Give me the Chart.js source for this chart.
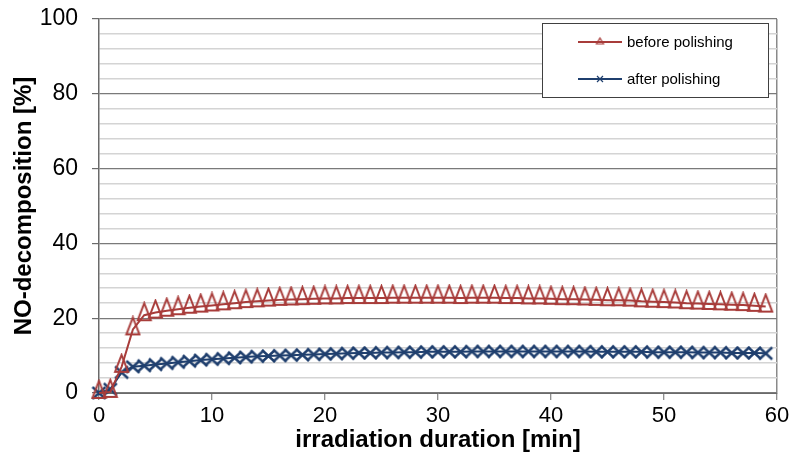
<!DOCTYPE html>
<html>
<head>
<meta charset="utf-8">
<script src="https://cdn.jsdelivr.net/npm/chart.js@4.4.0/dist/chart.umd.min.js"></script>
<style>
  html, body { margin: 0; padding: 0; background: #fff; }
  #wrap { width: 790px; height: 460px; }
</style>
</head>
<body>
<div id="wrap"><canvas id="chart"></canvas></div>
<script>
// irradiation duration [min]
const minutes = [0, 1, 2, 3, 4, 5, 6, 7, 8, 9, 10, 11, 12, 13, 14, 15, 16, 17, 18, 19,
  20, 21, 22, 23, 24, 25, 26, 27, 28, 29, 30, 31, 32, 33, 34, 35, 36, 37, 38, 39,
  40, 41, 42, 43, 44, 45, 46, 47, 48, 49, 50, 51, 52, 53, 54, 55, 56, 57, 58, 59];

// NO-decomposition [%]
const beforePolishing = [0, 0.3, 7, 17, 20.8, 21.5, 22, 22.4, 22.8, 23.1,
  23.4, 23.7, 24.0, 24.3, 24.5, 24.7, 24.9, 25.0, 25.1, 25.2,
  25.3, 25.3, 25.4, 25.4, 25.4, 25.4, 25.5, 25.5, 25.5, 25.5,
  25.5, 25.5, 25.4, 25.5, 25.5, 25.5, 25.4, 25.4, 25.3, 25.3,
  25.2, 25.1, 25.1, 25.0, 24.9, 24.8, 24.8, 24.7, 24.5, 24.4,
  24.3, 24.2, 24.0, 23.9, 23.8, 23.7, 23.6, 23.5, 23.3, 23.1];

const afterPolishing = [0, 1, 5.5, 7, 7.3, 7.6, 7.9, 8.2, 8.5, 8.8,
  9.0, 9.2, 9.4, 9.6, 9.8, 9.9, 10.0, 10.1, 10.2, 10.3,
  10.4, 10.5, 10.6, 10.7, 10.7, 10.8, 10.8, 10.9, 10.9, 11.0,
  11.0, 11.0, 11.0, 11.1, 11.1, 11.1, 11.1, 11.1, 11.1, 11.1,
  11.1, 11.1, 11.1, 11.1, 11.0, 11.0, 11.0, 11.0, 11.0, 10.9,
  10.9, 10.9, 10.9, 10.8, 10.8, 10.8, 10.7, 10.7, 10.7, 10.6];

const seriesLabels = ['before polishing', 'after polishing'];
const xTicks = [0, 10, 20, 30, 40, 50, 60];
const yTicks = [0, 20, 40, 60, 80, 100];

const RED = '#a83c3a';
const BLUE = '#1f3f6e';
const FONT = "'Liberation Sans', Arial, sans-serif";

// tall thin open triangle, the line passes through its lower third
function triangleMarker(w, h, below, color, lw) {
  const above = h - below;
  const c = document.createElement('canvas');
  c.width = w + 4;
  c.height = 2 * above + 4;
  const cx = c.width / 2, cy = c.height / 2;
  const g = c.getContext('2d');
  g.strokeStyle = color;
  g.lineWidth = lw;
  g.lineJoin = 'miter';
  g.beginPath();
  g.moveTo(cx, cy - above);
  g.lineTo(cx + w / 2, cy + below);
  g.lineTo(cx - w / 2, cy + below);
  g.closePath();
  g.stroke();
  return c;
}

function crossMarker(w, h, color, lw) {
  const c = document.createElement('canvas');
  c.width = w + 4;
  c.height = h + 4;
  const g = c.getContext('2d');
  g.strokeStyle = color;
  g.lineWidth = lw;
  g.beginPath();
  g.moveTo(2, 2); g.lineTo(w + 2, h + 2);
  g.moveTo(w + 2, 2); g.lineTo(2, h + 2);
  g.stroke();
  return c;
}

const triBig = triangleMarker(13, 17, 5, RED, 2);
const crossBig = crossMarker(13, 12, BLUE, 2.4);
const triSmall = triangleMarker(7, 6, 2, RED, 1.2);
const crossSmall = crossMarker(6, 6, BLUE, 1.2);

// legend box inside the plot, top right
const insideLegend = {
  id: 'insideLegend',
  afterDraw(chart) {
    const { ctx, chartArea } = chart;
    const right = chartArea.right - 9;
    const top = chartArea.top + 3.5;
    const w = 226, h = 74;
    const left = right - w;
    ctx.save();
    ctx.fillStyle = '#fff';
    ctx.fillRect(left, top, w, h);
    ctx.strokeStyle = '#404040';
    ctx.lineWidth = 1;
    ctx.strokeRect(Math.round(left) + 0.5, Math.round(top) + 0.5, w, h);
    const markers = [triSmall, crossSmall];
    const colors = [RED, BLUE];
    const rows = [top + 19.5, top + 56.5];
    ctx.font = '15px ' + FONT;
    ctx.textBaseline = 'middle';
    ctx.textAlign = 'left';
    chart.data.datasets.forEach((ds, i) => {
      const y = rows[i];
      ctx.strokeStyle = colors[i];
      ctx.lineWidth = 2;
      ctx.beginPath();
      ctx.moveTo(left + 36, y);
      ctx.lineTo(left + 80, y);
      ctx.stroke();
      const m = markers[i];
      ctx.drawImage(m, left + 58 - m.width / 2, y - m.height / 2);
      ctx.fillStyle = '#000';
      ctx.fillText(ds.label, left + 85, y + 1);
    });
    ctx.restore();
  }
};

const ctx = document.getElementById('chart').getContext('2d');
new Chart(ctx, {
  type: 'line',
  data: {
    labels: minutes,
    datasets: [{
      label: seriesLabels[0],
      data: minutes.map((m, i) => ({ x: m, y: beforePolishing[i] })),
      borderColor: RED,
      borderWidth: 2,
      pointStyle: triBig,
      pointRadius: 6,
      tension: 0,
      clip: false
    }, {
      label: seriesLabels[1],
      data: minutes.map((m, i) => ({ x: m, y: afterPolishing[i] })),
      borderColor: BLUE,
      borderWidth: 2,
      pointStyle: crossBig,
      pointRadius: 6,
      tension: 0,
      clip: false
    }]
  },
  options: {
    responsive: true,
    maintainAspectRatio: false,
    animation: false,
    layout: { padding: { left: 0, right: 13, top: 19, bottom: 0 } },
    plugins: {
      legend: { display: false },
      tooltip: { enabled: false }
    },
    scales: {
      x: {
        type: 'linear',
        min: 0,
        max: 60,
        afterBuildTicks: (axis) => { axis.ticks = xTicks.map(v => ({ value: v })); },
        afterFit: (axis) => {
          axis.height = 67;
          axis.paddingLeft = 0;
          axis.paddingRight = 0;
        },
        border: { color: '#6a6a6a', width: 1 },
        grid: {
          drawOnChartArea: true,
          color: (c) => (c.tick && c.tick.value === 60 ? '#8a8a8a' : 'rgba(0,0,0,0)'),
          lineWidth: 1.5,
          tickLength: 7,
          tickColor: '#6a6a6a',
          tickWidth: 1
        },
        ticks: {
          color: '#000',
          font: { family: FONT, size: 22 },
          padding: 3,
          maxRotation: 0
        },
        title: {
          display: true,
          text: 'irradiation duration [min]',
          color: '#000',
          font: { family: FONT, size: 24, weight: 'bold' },
          padding: { top: 0, bottom: 5 }
        }
      },
      y: {
        min: 0,
        max: 100,
        ticks: {
          stepSize: 4,
          autoSkip: false,
          color: '#000',
          font: { family: FONT, size: 23 },
          padding: 14,
          callback: (v) => (yTicks.includes(v) ? v : '')
        },
        afterFit: (axis) => {
          axis.width = 99;
          axis.paddingTop = 0;
          axis.paddingBottom = 0;
        },
        border: { color: '#6a6a6a', width: 1.5 },
        grid: {
          color: (c) => (c.tick && c.tick.value % 20 === 0 ? '#7a7a7a' : '#d4d4d4'),
          lineWidth: (c) => (c.tick && c.tick.value % 20 === 0 ? 1.2 : 1.6),
          tickLength: 7,
          tickColor: (c) => (c.tick && c.tick.value % 20 === 0 ? '#6a6a6a' : 'rgba(0,0,0,0)')
        },
        title: {
          display: true,
          text: 'NO-decomposition [%]',
          color: '#000',
          font: { family: FONT, size: 24, weight: 'bold' },
          padding: { top: 10, bottom: 0 }
        }
      }
    }
  },
  plugins: [insideLegend]
});
</script>
</body>
</html>
